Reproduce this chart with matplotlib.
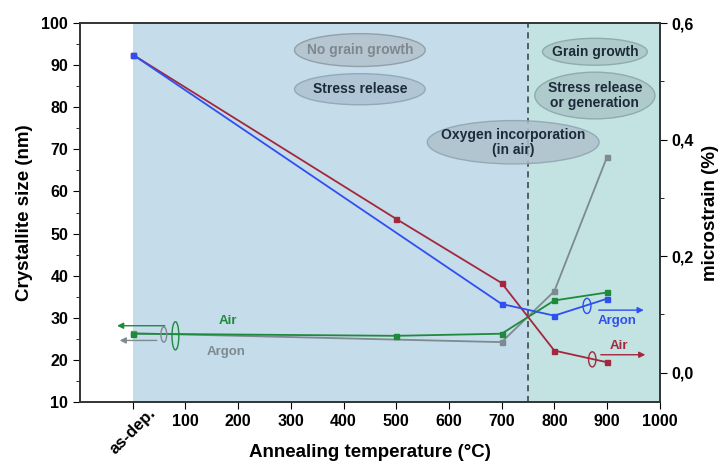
import matplotlib
matplotlib.use("Agg")
import matplotlib.pyplot as plt
import matplotlib.transforms as mtransforms
from matplotlib.patches import Ellipse

plt.rcParams['font.family'] = ['Liberation Sans', 'DejaVu Sans']
plt.rcParams['font.weight'] = 'bold'

# Crystallite size (left axis)
air_size_T = [0, 500, 700, 800, 900]
air_size = [26.2, 25.7, 26.2, 34.1, 36.0]
argon_size_T = [0, 700, 800, 900]
argon_size = [26.3, 24.2, 36.3, 68.2]

# Microstrain (right axis)
air_strain_T = [0, 500, 700, 800, 900]
air_strain = [0.546, 0.264, 0.154, 0.038, 0.018]
argon_strain_T = [0, 700, 800, 900]
argon_strain = [0.546, 0.118, 0.098, 0.127]

xticks = [0, 100, 200, 300, 400, 500, 600, 700, 800, 900, 1000]
xticklabels = ['as-dep.', '100', '200', '300', '400', '500', '600', '700', '800', '900', '1000']
yticks_left = [10, 20, 30, 40, 50, 60, 70, 80, 90, 100]
yticks_right = [0.0, 0.2, 0.4, 0.6]
yticklabels_right = ['0,0', '0,2', '0,4', '0,6']

c_air_size = '#1e8a3c'
c_argon_size = '#7d8a8e'
c_air_strain = '#a3283c'
c_argon_strain = '#2f4ff0'

fig = plt.figure(figsize=(7.21, 4.63), dpi=100)
ax = fig.add_axes([0.111, 0.132, 0.804, 0.818])
ax2 = ax.twinx()

ax.set_xlim(-100, 1000)
ax.set_ylim(10, 100)
ax2.set_ylim(-0.05, 0.6)

ax.axvspan(0, 750, color='#c5dcea', zorder=0, lw=0)
ax.axvspan(750, 1000, color='#c3e2e2', zorder=0, lw=0)
ax.axvline(750, color='#333b44', ls=(0, (4, 3)), lw=1.1, zorder=1)

ms = 3.6
ax.plot(air_size_T, air_size, '-s', color=c_air_size, lw=1.3, ms=ms, zorder=5)
ax.plot(argon_size_T, argon_size, '-s', color=c_argon_size, lw=1.3, ms=ms, zorder=4)
ax2.plot(air_strain_T, air_strain, '-s', color=c_air_strain, lw=1.3, ms=ms, zorder=5)
ax2.plot(argon_strain_T, argon_strain, '-s', color=c_argon_strain, lw=1.3, ms=ms, zorder=6)

# region ellipses
def region(x, y, w, h, text, tcolor, fcolor, ecolor):
    e = Ellipse((x, y), w, h, facecolor=fcolor, edgecolor=ecolor, lw=1.0, alpha=0.85, zorder=2)
    ax.add_patch(e)
    ax.text(x, y, text, ha='center', va='center', fontsize=10, fontweight='bold',
            color=tcolor, zorder=3, linespacing=1.1)

region(431, 93.6, 248, 7.8, 'No grain growth', '#7f878f', '#b4c3cd', '#8c969e')
region(431, 84.3, 248, 7.4, 'Stress release', '#1c2b3a', '#adc3d3', '#8ea3b2')
region(722, 71.7, 326, 10.3, 'Oxygen incorporation\n(in air)', '#1c2b3a', '#aec2cc', '#8ea3b0')
region(877, 93.2, 199, 6.4, 'Grain growth', '#1c2b3a', '#abc6c8', '#8aa4a8')
region(877, 82.8, 228, 11.1, 'Stress release\nor generation', '#1c2b3a', '#abc6c8', '#8aa4a8')

# series markers: small ellipses and arrows
ax.add_patch(Ellipse((81, 25.7), 13, 6.7, fill=False, edgecolor=c_air_size, lw=1.0, zorder=6))
ax.add_patch(Ellipse((59, 26.0), 11, 3.6, fill=False, edgecolor=c_argon_size, lw=1.0, zorder=6))
ax.annotate('', xy=(-35, 28.1), xytext=(66, 28.1),
            arrowprops=dict(arrowstyle='-|>', color=c_air_size, lw=1.0, mutation_scale=9), zorder=6)
ax.annotate('', xy=(-30, 24.6), xytext=(51, 24.6),
            arrowprops=dict(arrowstyle='-|>', color=c_argon_size, lw=1.0, mutation_scale=9), zorder=6)
ax.text(180, 29.3, 'Air', color=c_air_size, fontsize=9.5, fontweight='bold', ha='center', va='center')
ax.text(178, 21.9, 'Argon', color=c_argon_size, fontsize=9.5, fontweight='bold', ha='center', va='center')

ax.add_patch(Ellipse((862, 32.8), 15, 3.6, fill=False, edgecolor=c_argon_strain, lw=1.0, zorder=7))
ax.add_patch(Ellipse((872, 20.1), 14, 3.6, fill=False, edgecolor=c_air_strain, lw=1.0, zorder=7))
ax.annotate('', xy=(975, 31.8), xytext=(879, 31.8),
            arrowprops=dict(arrowstyle='-|>', color=c_argon_strain, lw=1.0, mutation_scale=9), zorder=7)
ax.annotate('', xy=(978, 21.2), xytext=(883, 21.2),
            arrowprops=dict(arrowstyle='-|>', color=c_air_strain, lw=1.0, mutation_scale=9), zorder=7)
ax.text(919, 29.3, 'Argon', color=c_argon_strain, fontsize=9.5, fontweight='bold', ha='center', va='center')
ax.text(923, 23.2, 'Air', color=c_air_strain, fontsize=9.5, fontweight='bold', ha='center', va='center')

ax2.set_zorder(ax.get_zorder() + 1)
ax2.patch.set_visible(False)

# ticks: the first (rotated) label is drawn as its own text, placed under its tick
ax.set_xticks(xticks)
ax.set_xticklabels([''] + xticklabels[1:])
for lab in ax.get_xticklabels():
    lab.set_fontweight('bold')
    lab.set_fontsize(11.5)
ax.text(xticks[0], -0.008, xticklabels[0], transform=ax.get_xaxis_transform(),
        rotation=45, ha='center', va='top', fontsize=12, fontweight='bold', clip_on=False)

ax.set_yticks(yticks_left)
ax.set_yticks([15, 25, 35, 45, 55, 65, 75, 85, 95], minor=True)
ax.tick_params(axis='y', which='major', direction='out', length=5, labelsize=11.5)
ax.tick_params(axis='y', which='minor', direction='out', length=3)
ax.tick_params(axis='x', which='major', direction='out', length=5)
for lab in ax.get_yticklabels():
    lab.set_fontweight('bold')

ax2.set_yticks(yticks_right)
ax2.set_yticklabels(yticklabels_right)
ax2.set_yticks([0.1, 0.3, 0.5], minor=True)
ax2.tick_params(axis='y', which='major', direction='out', length=5, labelsize=11.5)
ax2.tick_params(axis='y', which='minor', direction='out', length=3)
for lab in ax2.get_yticklabels():
    lab.set_fontweight('bold')

for a in (ax, ax2):
    for s in a.spines.values():
        s.set_color('#333333')
        s.set_linewidth(1.2)

ax.set_xlabel('Annealing temperature (°C)', fontsize=13.5, fontweight='bold')
ax.xaxis.set_label_coords(0.5, -0.11)
ax.xaxis.label.set_va('top')
ax.set_ylabel('Crystallite size (nm)', fontsize=13.5, fontweight='bold', labelpad=6)
ax2.set_ylabel('microstrain (%)', fontsize=13.5, fontweight='bold', labelpad=6)

fig.savefig('out.png', dpi=100)
